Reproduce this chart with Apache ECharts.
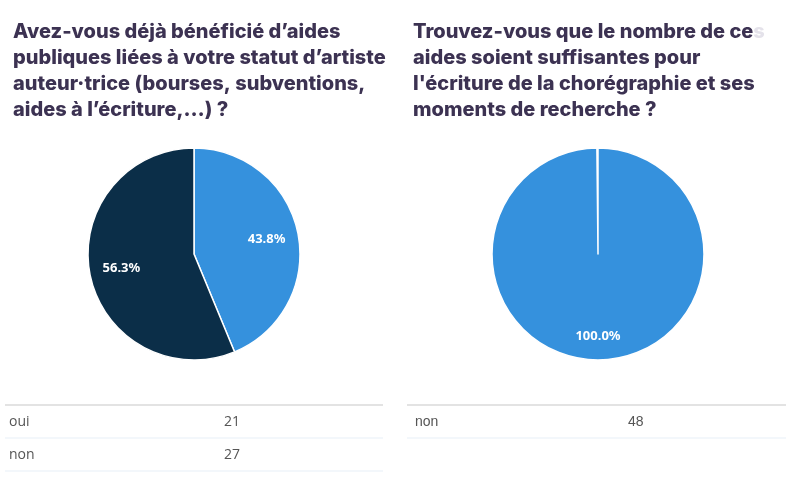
<!DOCTYPE html>
<html><head><meta charset="utf-8">
<script src="https://cdn.jsdelivr.net/npm/echarts@6/dist/echarts.min.js"></script>
<style>html,body{margin:0;padding:0;background:#fff}#c{width:800px;height:494px}</style>
</head><body><div id="c"></div>
<script>
const leftCategories = ['oui', 'non'];
const leftValues = [21, 27];
const rightCategories = ['non'];
const rightValues = [48];
const leftTitle = "Avez-vous déjà bénéficié d’aides\npubliques liées à votre statut d’artiste\nauteur·trice (bourses, subventions,\naides à l’écriture,…) ?";
const rightTitle = "Trouvez-vous que le nombre de ce{f|s}\naides soient suffisantes pour\nl'écriture de la chorégraphie et ses\nmoments de recherche ?";

const LIGHT = '#3591dd', DARK = '#0b2e48';
const R = 106;
const chart = echarts.init(document.getElementById('c'));

function pieData(cats, vals, colors) {
  return cats.map((c, i) => ({ name: c, value: vals[i], itemStyle: { color: colors[i] } }));
}
const leftData = pieData(leftCategories, leftValues, [LIGHT, DARK]);
const rightData = pieData(rightCategories, rightValues, [LIGHT]);

const labelStyle = { show: true, position: 'inside', color: '#fff', fontFamily: 'Noto Sans', fontWeight: 'bold', fontSize: 13, formatter: p => (p.percent).toFixed(1) + '%' };

function table(x0, x1, valX, cats, vals, font) {
  const els = [];
  const top = 405, rowH = 33;
  els.push({ type: 'rect', silent: true, shape: { x: x0, y: top - 1, width: x1 - x0, height: 2 }, style: { fill: '#e3e3e3' } });
  cats.forEach((c, i) => {
    const yc = top + rowH * i + rowH / 2 + 1;
    els.push({ type: 'text', silent: true, style: { x: x0 + 4 + (font === 'Liberation Sans' ? 4 : 0), y: yc, text: c, fill: '#555', font: '14px "' + font + '"', verticalAlign: 'middle' } });
    els.push({ type: 'text', silent: true, style: { x: valX, y: yc, text: String(vals[i]), fill: '#555', font: '14px "' + font + '"', verticalAlign: 'middle' } });
    els.push({ type: 'rect', silent: true, shape: { x: x0, y: top + rowH * (i + 1) - 0.5, width: x1 - x0, height: 1 }, style: { fill: '#e8eff7' } });
  });
  return els;
}

const titleStyle = { fontFamily: 'Inter', fontWeight: 800, fontSize: 20, lineHeight: 26, color: '#3c3252' };
chart.setOption({
  animation: false,
  title: [
    { text: leftTitle, left: 8, top: 14, textStyle: titleStyle },
    { text: rightTitle, left: 408, top: 14, textStyle: Object.assign({}, titleStyle, { rich: { f: Object.assign({}, titleStyle, { color: '#e4e2ea' }) } }) }
  ],
  series: [
    { type: 'pie', center: [194, 254], radius: [0, R], startAngle: 90, data: leftData, label: { show: false }, labelLine: { show: false }, itemStyle: { borderColor: '#fff', borderWidth: 1.5 }, silent: true },
    { type: 'pie', center: [194, 254], radius: [Math.round(R * 0.34), R], startAngle: 90, data: leftData.map(d => ({ name: d.name, value: d.value })), itemStyle: { color: 'rgba(0,0,0,0)', borderWidth: 0 }, label: labelStyle, labelLine: { show: false }, silent: true },
    { type: 'pie', center: [598, 254], radius: [0, R], startAngle: 90, endAngle: -269.4, data: rightData, label: { show: false }, labelLine: { show: false }, itemStyle: { borderColor: '#fff', borderWidth: 1.5 }, silent: true },
    { type: 'pie', center: [598, 254], radius: [Math.round(R * 0.5), R], startAngle: 90, data: rightData.map(d => ({ name: d.name, value: d.value })), itemStyle: { color: 'rgba(0,0,0,0)', borderWidth: 0 }, label: labelStyle, labelLine: { show: false }, silent: true }
  ],
  graphic: [
    ...table(5, 383, 224, leftCategories, leftValues, 'Open Sans'),
    ...table(407, 786, 628, rightCategories, rightValues, 'Liberation Sans')
  ]
});
</script></body></html>
